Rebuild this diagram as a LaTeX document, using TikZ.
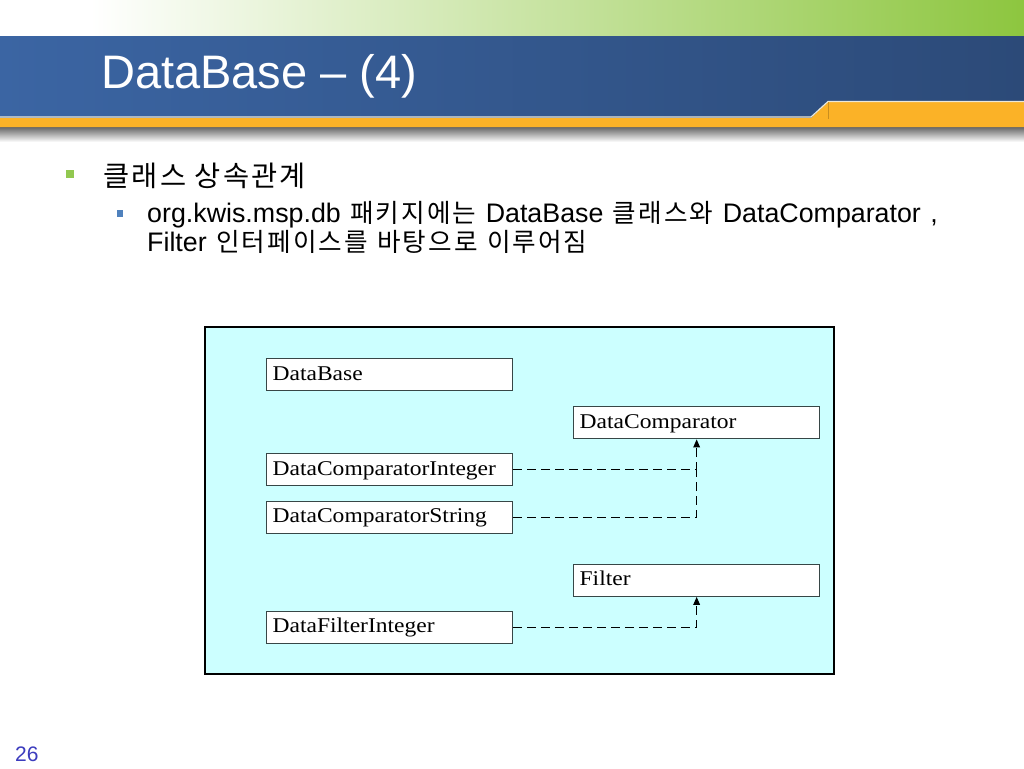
\documentclass[tikz,border=0pt]{standalone}
\usepackage{fontspec}
\setmainfont{Liberation Sans}
\newfontfamily\kofont{Noto Sans CJK KR}[LetterSpace=8]
\newfontfamily\boxfont{Liberation Serif}[FakeStretch=1.12]
\usetikzlibrary{arrows.meta}
\definecolor{topgreen}{RGB}{141,198,63}
\definecolor{blueL}{RGB}{59,101,163}
\definecolor{blueR}{RGB}{44,74,120}
\definecolor{orangeband}{RGB}{251,178,39}
\definecolor{creamline}{RGB}{236,232,215}
\definecolor{bulgreen}{RGB}{146,200,80}
\definecolor{bulblue}{RGB}{79,129,189}
\definecolor{diagbg}{RGB}{204,255,255}
\definecolor{boxedge}{RGB}{55,70,70}
\definecolor{pagecol}{RGB}{60,60,190}
\tikzset{
  clsbox/.style={draw=boxedge, line width=1.3pt, fill=white, anchor=north west,
    minimum width=246pt, minimum height=32pt, inner xsep=6pt, inner ysep=0pt,
    text width=234pt, align=left, text height=12pt, text depth=1pt,
    font=\boxfont\fontsize{21}{24}\selectfont},
  dashline/.style={line width=1.3pt, dash pattern=on 9pt off 5pt},
  dep/.style={dashline, -{Triangle[length=8pt,width=6.5pt]}},
  plaintext/.style={anchor=base west, inner sep=0pt},
  subtext/.style={plaintext, font=\fontsize{26.8}{30}\selectfont},
}
\newcommand{\widesp}{\hspace{9.5pt}}
\newcommand{\kosub}[1]{{\kofont\fontsize{25.6}{30}\selectfont #1}}
\begin{document}
\begin{tikzpicture}[x=1pt,y=-1pt]
\useasboundingbox (0,0) rectangle (1024,768);
\fill[white] (0,0) rectangle (1024,768);
% header
\shade[left color=white, right color=topgreen] (90,0) rectangle (1024,37);
\shade[left color=blueL, right color=blueR] (0,37) rectangle (1024,118);
\shade[top color=black!60, bottom color=white] (0,127) rectangle (1024,142);
\fill[orangeband] (0,118) -- (811,118) -- (828,102) -- (1024,102) -- (1024,127) -- (0,127) -- cycle;
\draw[creamline, line width=1.2pt] (0,117) -- (811,117) -- (828,101.5) -- (1024,101.5);
\draw[orangeband!80!black, line width=0.5pt] (828,102) -- (828,119);
\node[plaintext, text=white, font=\fontsize{47}{52}\selectfont] (title) at (101,88) {DataBase – (4)};
% bullets
\node[fill=bulgreen, minimum size=8pt, inner sep=0pt] (b1) at (70,174) {};
\node[plaintext, font=\kofont\fontsize{28.4}{34}\selectfont] (t1) at (103,186) {클래스 상속관계};
\node[fill=bulblue, minimum size=6.5pt, inner sep=0pt] (b2) at (120,213.5) {};
\node[subtext] (t2) at (147,222) {org.kwis.msp.db\widesp\kosub{패키지에는}\widesp DataBase\widesp\kosub{클래스와}\widesp DataComparator\widesp,};
\node[subtext] (t3) at (147,251) {Filter\widesp\kosub{인터페이스를\widesp 바탕으로\widesp 이루어짐}};
% diagram
\draw[fill=diagbg, line width=1.3pt] (205,327) rectangle (834,674);
\node[clsbox] (db) at (266,358) {DataBase};
\node[clsbox] (dc) at (573,406) {DataComparator};
\node[clsbox] (dci) at (266,453) {DataComparatorInteger};
\node[clsbox] (dcs) at (266,500.5) {DataComparatorString};
\node[clsbox] (flt) at (573,563.5) {Filter};
\node[clsbox] (dfi) at (266,610.5) {DataFilterInteger};
\coordinate (j) at (dci.east -| dc.south);
\draw[dashline] (dcs.east) -| (j);
\draw[dep] (dci.east) -| (dc.south);
\draw[dep] (dfi.east) -| (flt.south);
% page number
\node[plaintext, text=pagecol, font=\fontsize{21}{24}\selectfont] (pg) at (15,761) {26};
\end{tikzpicture}
\end{document}
